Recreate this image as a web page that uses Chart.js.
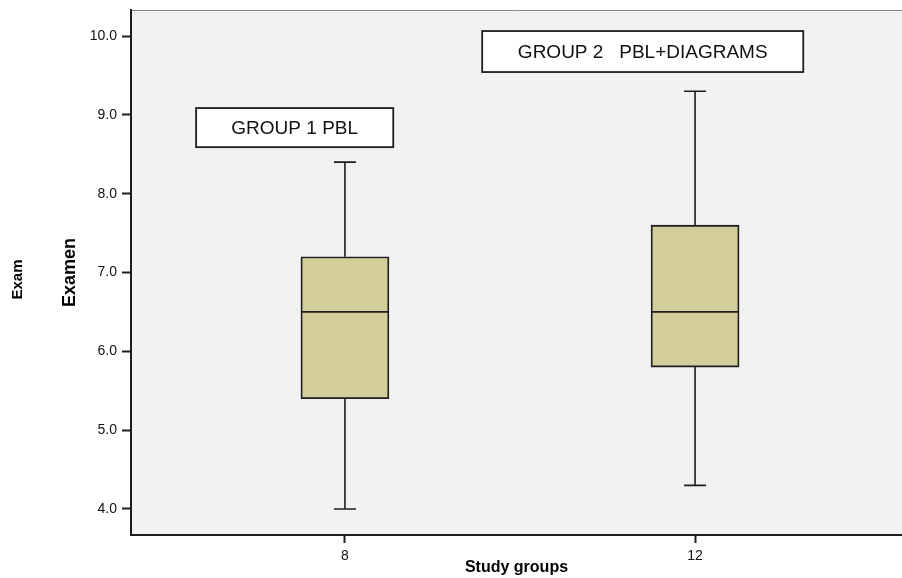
<!DOCTYPE html>
<html>
<head>
<meta charset="utf-8">
<script src="https://cdn.jsdelivr.net/npm/chart.js@4.4.1/dist/chart.umd.min.js"></script>
<style>
  html, body { margin: 0; padding: 0; background: #ffffff; }
  #wrap { width: 902px; height: 578px; position: relative; }
</style>
</head>
<body>
<div id="wrap"><canvas id="c"></canvas></div>
<script>
// Exam scores by study group: five-number summaries
const groupLabels = ['8', '12'];
const groupPositions = [1, 2];
const whiskerLow = [4.0, 4.3];
const quartile1 = [5.4, 5.8];
const medians = [6.5, 6.5];
const quartile3 = [7.2, 7.6];
const whiskerHigh = [8.4, 9.3];
const yTicks = [4, 5, 6, 7, 8, 9, 10];

// Caption boxes, placed in axis units
const captionTexts = ['GROUP 1 PBL', 'GROUP 2   PBL+DIAGRAMS'];
const captionX = [[0.575, 1.138], [1.392, 2.309]];
const captionY = [[8.59, 9.086], [9.543, 10.063]];

const FONT = "'Liberation Sans', Arial, Helvetica, sans-serif";
const INK = '#1e1e1e';

const boxData = groupPositions.map((x, i) => ({ x: x, y: [quartile1[i], quartile3[i]] }));

// Plot background, top frame line and the outer axis caption
const plotFrame = {
  id: 'plotFrame',
  beforeDraw(chart) {
    const { ctx, chartArea: a } = chart;
    ctx.save();
    ctx.fillStyle = '#f2f2f2';
    ctx.fillRect(a.left, a.top, a.right - a.left, a.bottom - a.top);
    ctx.strokeStyle = '#8a8a8a';
    ctx.lineWidth = 1;
    ctx.beginPath();
    ctx.moveTo(a.left, a.top + 0.5);
    ctx.lineTo(a.right, a.top + 0.5);
    ctx.stroke();
    // outer caption "Exam"
    ctx.translate(18, (a.top + a.bottom) / 2 + 7);
    ctx.rotate(-Math.PI / 2);
    ctx.font = 'bold 15px ' + FONT;
    ctx.fillStyle = '#000';
    ctx.textAlign = 'center';
    ctx.textBaseline = 'middle';
    ctx.fillText('Exam', 0, 0);
    ctx.restore();
  }
};

// Whiskers, caps and median lines drawn through the chart scales
const boxExtras = {
  id: 'boxExtras',
  beforeDatasetsDraw(chart) {
    const { ctx, scales: { x, y } } = chart;
    ctx.save();
    ctx.strokeStyle = INK;
    ctx.lineWidth = 1.6;
    groupPositions.forEach((g, i) => {
      const cx = x.getPixelForValue(g);
      const capHalf = 11;
      ctx.beginPath();
      ctx.moveTo(cx, y.getPixelForValue(quartile3[i]));
      ctx.lineTo(cx, y.getPixelForValue(whiskerHigh[i]));
      ctx.moveTo(cx, y.getPixelForValue(quartile1[i]));
      ctx.lineTo(cx, y.getPixelForValue(whiskerLow[i]));
      ctx.moveTo(cx - capHalf, y.getPixelForValue(whiskerHigh[i]));
      ctx.lineTo(cx + capHalf, y.getPixelForValue(whiskerHigh[i]));
      ctx.moveTo(cx - capHalf, y.getPixelForValue(whiskerLow[i]));
      ctx.lineTo(cx + capHalf, y.getPixelForValue(whiskerLow[i]));
      ctx.stroke();
    });
    ctx.restore();
  },
  afterDatasetsDraw(chart) {
    const { ctx, scales: { x, y } } = chart;
    const meta = chart.getDatasetMeta(0);
    ctx.save();
    ctx.strokeStyle = INK;
    ctx.lineWidth = 1.6;
    meta.data.forEach((bar, i) => {
      const half = bar.width / 2;
      const my = y.getPixelForValue(medians[i]);
      ctx.beginPath();
      ctx.moveTo(bar.x - half, my);
      ctx.lineTo(bar.x + half, my);
      ctx.stroke();
    });
    // caption boxes
    ctx.font = '19px ' + FONT;
    ctx.textAlign = 'center';
    ctx.textBaseline = 'middle';
    captionTexts.forEach((t, i) => {
      const l = x.getPixelForValue(captionX[i][0]);
      const r = x.getPixelForValue(captionX[i][1]);
      const top = y.getPixelForValue(captionY[i][1]);
      const bot = y.getPixelForValue(captionY[i][0]);
      ctx.fillStyle = '#ffffff';
      ctx.fillRect(l, top, r - l, bot - top);
      ctx.lineWidth = 1.8;
      ctx.strokeStyle = INK;
      ctx.strokeRect(l, top, r - l, bot - top);
      ctx.fillStyle = '#111111';
      ctx.fillText(t, (l + r) / 2, (top + bot) / 2 + 1);
    });
    ctx.restore();
  }
};

new Chart(document.getElementById('c'), {
  type: 'bar',
  data: {
    datasets: [{
      data: boxData,
      backgroundColor: '#d3ce99',
      borderColor: INK,
      borderWidth: 1.8,
      borderSkipped: false,
      barThickness: 88
    }]
  },
  options: {
    responsive: true,
    maintainAspectRatio: false,
    animation: false,
    layout: { padding: { top: 10, left: 36, right: 0, bottom: 0 } },
    plugins: {
      legend: { display: false },
      tooltip: { enabled: false },
      title: { display: false }
    },
    scales: {
      x: {
        type: 'linear',
        offset: false,
        min: 0.389,
        max: 2.591,
        afterBuildTicks(scale) { scale.ticks = groupPositions.map(v => ({ value: v })); },
        afterFit(scale) { scale.height = 43; scale.paddingLeft = 0; scale.paddingRight = 0; },
        ticks: {
          color: '#111',
          font: { family: FONT, size: 14 },
          padding: 5,
          maxRotation: 0,
          callback: (v) => groupLabels[groupPositions.indexOf(v)]
        },
        grid: { display: true, offset: false, drawOnChartArea: false, drawTicks: true, tickLength: 8, tickColor: INK, tickWidth: 2 },
        border: { display: true, color: INK, width: 2 },
        title: {
          display: true,
          text: 'Study groups',
          color: '#000',
          font: { family: FONT, size: 16, weight: 'bold' },
          padding: { top: 0, bottom: 1 }
        }
      },
      y: {
        min: 3.67,
        max: 10.33,
        afterBuildTicks(scale) { scale.ticks = yTicks.map(v => ({ value: v })); },
        afterFit(scale) { scale.width = 95; scale.paddingTop = 0; scale.paddingBottom = 0; },
        ticks: {
          color: '#111',
          font: { family: FONT, size: 14 },
          padding: 5,
          callback: (v) => Number(v).toFixed(1)
        },
        grid: { display: true, drawOnChartArea: false, drawTicks: true, tickLength: 9, tickColor: INK, tickWidth: 2 },
        border: { display: true, color: INK, width: 2 },
        title: {
          display: true,
          text: 'Examen',
          color: '#000',
          font: { family: FONT, size: 18, weight: 'bold' },
          padding: { top: 23, bottom: 0 }
        }
      }
    }
  },
  plugins: [plotFrame, boxExtras]
});
</script>
</body>
</html>
